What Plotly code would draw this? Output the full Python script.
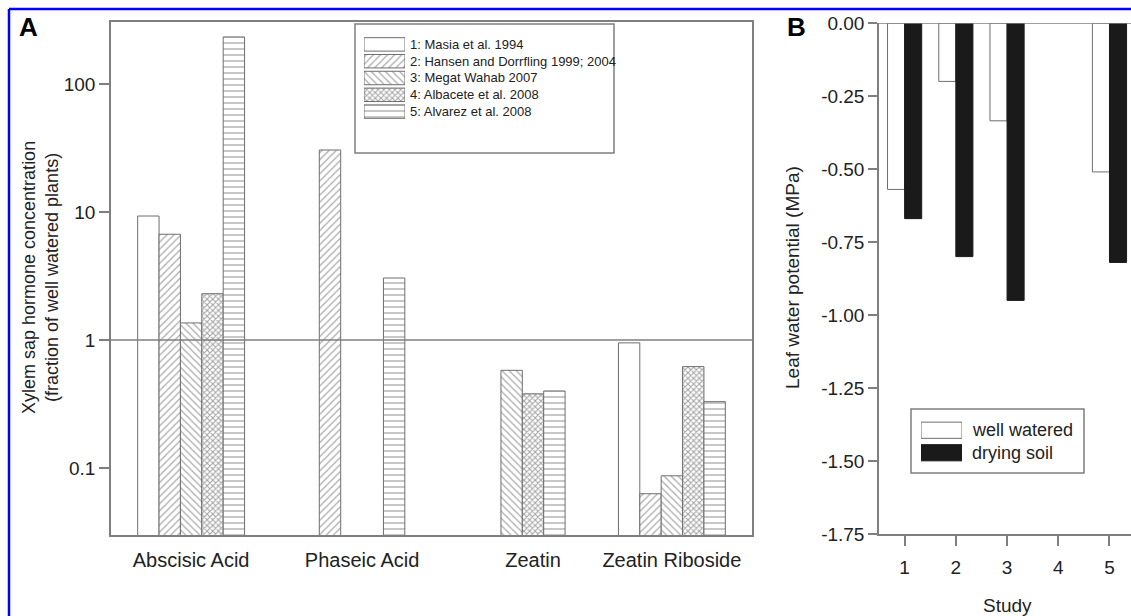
import plotly.graph_objects as go

# ---------------- data ----------------
hormones = ["Abscisic Acid", "Phaseic Acid", "Zeatin", "Zeatin Riboside"]
study_names = ["1: Masia et al. 1994",
               "2: Hansen and Dorrfling 1999; 2004",
               "3: Megat Wahab 2007",
               "4: Albacete et al. 2008",
               "5: Alvarez et al. 2008"]
masia = [9.3, None, None, 0.95]
hansen = [6.7, 30.5, None, 0.063]
megat = [1.36, None, 0.58, 0.087]
albacete = [2.3, None, 0.38, 0.62]
alvarez = [233, 3.05, 0.40, 0.33]
a_series = [masia, hansen, megat, albacete, alvarez]
a_ticks = [0.1, 1, 10, 100]
a_ticktext = ["0.1", "1", "10", "100"]

studies = [1, 2, 3, 4, 5]
well_watered = [-0.57, -0.20, -0.335, None, -0.51]
drying_soil = [-0.67, -0.80, -0.95, None, -0.82]
b_names = ["well watered", "drying soil"]
b_ticks = [0.0, -0.25, -0.50, -0.75, -1.00, -1.25, -1.50, -1.75]

# ---------------- styles ----------------
W, H = 1131, 616
FONT = "Liberation Sans, Arial, sans-serif"
GRAY = "#7f7f7f"
PAT_FG = "#555555"
BARGAP = 0.333
patterns = [
    dict(shape="", bgcolor="white"),
    dict(shape="/", size=5, solidity=0.25, fgcolor=PAT_FG, bgcolor="white"),
    dict(shape="\\", size=5, solidity=0.25, fgcolor=PAT_FG, bgcolor="white"),
    dict(shape="x", size=4, solidity=0.45, fgcolor="#444444", bgcolor="white"),
    dict(shape="-", size=6, solidity=0.22, fgcolor=PAT_FG, bgcolor="white"),
]


def px_x(p):
    return p / W


def px_y(p):
    return 1 - p / H


fig = go.Figure()

# Panel A bars
xs = list(range(len(hormones)))
for name, vals, pat in zip(study_names, a_series, patterns):
    fig.add_trace(go.Bar(
        x=xs, y=vals, name=name, xaxis="x", yaxis="y",
        marker=dict(color="white", pattern=pat,
                    line=dict(color="#6e6e6e", width=1)),
        showlegend=False))

# category label positions: centre of the bars actually present
n = len(a_series)
slot = (1 - BARGAP) / n
cat_pos = []
for g in xs:
    offs = [(k - (n - 1) / 2) * slot for k in range(n) if a_series[k][g] is not None]
    cat_pos.append(g + sum(offs) / len(offs))

# Panel B bars
fig.add_trace(go.Bar(x=studies, y=well_watered, name=b_names[0], xaxis="x2", yaxis="y2",
                     marker=dict(color="white", line=dict(color="#6e6e6e", width=1)),
                     showlegend=False))
fig.add_trace(go.Bar(x=studies, y=drying_soil, name=b_names[1], xaxis="x2", yaxis="y2",
                     marker=dict(color="#1a1a1a", line=dict(color="#1a1a1a", width=1)),
                     showlegend=False))

# Legend A swatches (inset axes)
fig.add_trace(go.Bar(
    y=list(range(n)), x=[1] * n, orientation="h", width=0.8,
    xaxis="x3", yaxis="y3", showlegend=False, hoverinfo="skip",
    marker=dict(color="white", line=dict(color="#6e6e6e", width=1),
                pattern=dict(shape=[p["shape"] for p in patterns],
                             size=[p.get("size", 5) for p in patterns],
                             solidity=[p.get("solidity", 0.25) for p in patterns],
                             fgcolor=[p.get("fgcolor", PAT_FG) for p in patterns],
                             bgcolor="white"))))

# Legend B swatches
fig.add_trace(go.Bar(
    y=[0, 1], x=[1, 1], orientation="h", width=0.72,
    xaxis="x4", yaxis="y4", showlegend=False, hoverinfo="skip",
    marker=dict(color=["white", "#1a1a1a"], line=dict(color=["#6e6e6e", "#1a1a1a"], width=1))))

axis_common = dict(showline=True, linecolor=GRAY, linewidth=1.5, showgrid=False,
                   zeroline=False, tickfont=dict(family=FONT, size=19, color="#222"))
hidden = dict(visible=False, showgrid=False, zeroline=False, fixedrange=True)

fig.update_layout(
    width=W, height=H, margin=dict(l=0, r=0, t=0, b=0, autoexpand=False),
    paper_bgcolor="white", plot_bgcolor="rgba(0,0,0,0)",
    barmode="group", bargap=BARGAP, bargroupgap=0,
    font=dict(family=FONT, size=18, color="#222"),
    xaxis=dict(domain=[px_x(111), px_x(752)], range=[-0.5, 3.5], anchor="y",
               tickvals=cat_pos, ticktext=hormones, ticks="", mirror=True,
               ticklabelstandoff=6, automargin=False,
               **{**axis_common, "tickfont": dict(family=FONT, size=20, color="#222")}),
    yaxis=dict(domain=[px_y(535), px_y(22)], type="log", range=[-1.523, 2.484],
               anchor="x", tickvals=a_ticks, ticktext=a_ticktext, ticks="outside",
               ticklen=10, tickcolor=GRAY, tickwidth=1.5, mirror=True, automargin=False,
               **axis_common),
    xaxis2=dict(domain=[px_x(879), 1.0], range=[0.5, 5.42], anchor="y2",
                tickvals=studies, ticks="outside", ticklen=10, tickcolor=GRAY,
                tickwidth=1.5, ticklabelstandoff=5, automargin=False, **axis_common),
    yaxis2=dict(domain=[px_y(534), px_y(23)], range=[-1.75, 0], anchor="x2",
                tickvals=b_ticks, ticktext=[f"{v:.2f}" for v in b_ticks],
                ticks="outside", ticklen=9, automargin=False,
                tickcolor=GRAY, tickwidth=1.5, **axis_common),
    xaxis3=dict(domain=[px_x(364), px_x(405)], range=[0, 1], anchor="y3", **hidden),
    yaxis3=dict(domain=[px_y(120), px_y(36)], range=[n - 0.5, -0.5], anchor="x3", **hidden),
    xaxis4=dict(domain=[px_x(921), px_x(962)], range=[0, 1], anchor="y4", **hidden),
    yaxis4=dict(domain=[px_y(464), px_y(419)], range=[1.5, -0.5], anchor="x4", **hidden),
)

shapes = [
    # reference line at 1 in panel A
    dict(type="line", xref="x domain", x0=0, x1=1, yref="y", y0=1, y1=1,
         line=dict(color=GRAY, width=1.5)),
    # zero line on top of panel B
    dict(type="line", xref="x2 domain", x0=0, x1=1, yref="y2", y0=0, y1=0,
         line=dict(color=GRAY, width=1.5)),
    # legend boxes
    dict(type="rect", xref="paper", yref="paper", x0=px_x(355), x1=px_x(614),
         y0=px_y(153), y1=px_y(24), line=dict(color=GRAY, width=1.5)),
    dict(type="rect", xref="paper", yref="paper", x0=px_x(911), x1=px_x(1084),
         y0=px_y(473), y1=px_y(409), line=dict(color=GRAY, width=1.5)),
    # blue frame
    dict(type="line", xref="paper", yref="paper", x0=px_x(9), x1=1.0,
         y0=px_y(9), y1=px_y(9), line=dict(color="#0000ff", width=2.5)),
    dict(type="line", xref="paper", yref="paper", x0=px_x(9), x1=px_x(9),
         y0=px_y(9), y1=0, line=dict(color="#0000ff", width=2.5)),
]
fig.update_layout(shapes=shapes)

ann = []
for i, name in enumerate(study_names):
    ann.append(dict(text=name, xref="x3 domain", x=1, xshift=3, xanchor="left",
                    yref="y3", y=i, yanchor="middle", showarrow=False,
                    font=dict(family=FONT, size=13, color="#222")))
for i, name in enumerate(b_names):
    ann.append(dict(text=name, xref="x4 domain", x=1, xshift=8, xanchor="left",
                    yref="y4", y=i, yanchor="middle", showarrow=False,
                    font=dict(family=FONT, size=18, color="#222")))
ann += [
    dict(text="<b>A</b>", xref="paper", yref="paper", x=px_x(17), y=px_y(10),
         xanchor="left", yanchor="top", showarrow=False,
         font=dict(family=FONT, size=26, color="black")),
    dict(text="<b>B</b>", xref="paper", yref="paper", x=px_x(785), y=px_y(10),
         xanchor="left", yanchor="top", showarrow=False,
         font=dict(family=FONT, size=26, color="black")),
    dict(text="Xylem sap hormone concentration<br>(fraction of well watered plants)",
         xref="paper", yref="paper", x=px_x(40), y=px_y(278), textangle=-90,
         xanchor="center", yanchor="middle", showarrow=False,
         font=dict(family=FONT, size=18, color="#222")),
    dict(text="Leaf water potential (MPa)", xref="paper", yref="paper",
         x=px_x(792), y=px_y(278), textangle=-90, xanchor="center", yanchor="middle",
         showarrow=False, font=dict(family=FONT, size=19, color="#222")),
    dict(text="Study", xref="paper", yref="paper", x=px_x(1007), y=px_y(605),
         xanchor="center", yanchor="middle", showarrow=False,
         font=dict(family=FONT, size=19, color="#222")),
]
fig.update_layout(annotations=ann)

fig.write_html("out.html", config={"responsive": False, "displayModeBar": False})

# remove default page margins so the figure sits at the window origin
with open("out.html", "r", encoding="utf-8") as f:
    html = f.read()
html = html.replace("<head>", "<head><style>html,body{margin:0;padding:0;overflow:hidden}</style>", 1)
with open("out.html", "w", encoding="utf-8") as f:
    f.write(html)
